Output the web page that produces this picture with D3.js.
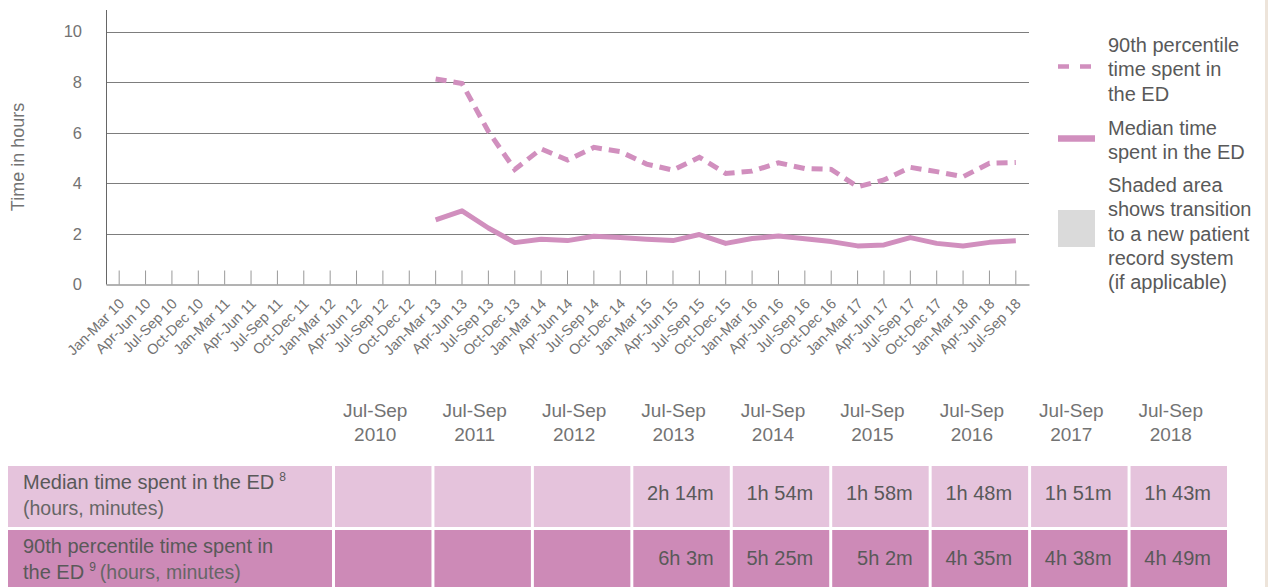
<!DOCTYPE html>
<html>
<head>
<meta charset="utf-8">
<script src="https://cdn.jsdelivr.net/npm/d3@7"></script>
<style>
  body { margin: 0; background: #fff; }
  svg { display: block; font-family: 'Liberation Sans', Arial, sans-serif; }
</style>
</head>
<body>
<svg id="chart" width="1268" height="587"></svg>
<script>
// quarters on the x axis
const quarters = [
  'Jan-Mar 10', 'Apr-Jun 10', 'Jul-Sep 10', 'Oct-Dec 10',
  'Jan-Mar 11', 'Apr-Jun 11', 'Jul-Sep 11', 'Oct-Dec 11',
  'Jan-Mar 12', 'Apr-Jun 12', 'Jul-Sep 12', 'Oct-Dec 12',
  'Jan-Mar 13', 'Apr-Jun 13', 'Jul-Sep 13', 'Oct-Dec 13',
  'Jan-Mar 14', 'Apr-Jun 14', 'Jul-Sep 14', 'Oct-Dec 14',
  'Jan-Mar 15', 'Apr-Jun 15', 'Jul-Sep 15', 'Oct-Dec 15',
  'Jan-Mar 16', 'Apr-Jun 16', 'Jul-Sep 16', 'Oct-Dec 16',
  'Jan-Mar 17', 'Apr-Jun 17', 'Jul-Sep 17', 'Oct-Dec 17',
  'Jan-Mar 18', 'Apr-Jun 18', 'Jul-Sep 18'
]

// 90th percentile time spent in the ED (hours), no data before 2013
const p90Hours = [
  null, null, null, null, null, null, null, null, null, null, null, null,
  8.13, 7.95, 6.05, 4.55, 5.36, 4.92, 5.42, 5.25, 4.76, 4.52, 5.03, 4.39,
  4.48, 4.81, 4.58, 4.55, 3.86, 4.13, 4.63, 4.46, 4.26, 4.79, 4.82
]

// median time spent in the ED (hours)
const medianHours = [
  null, null, null, null, null, null, null, null, null, null, null, null,
  2.55, 2.91, 2.23, 1.65, 1.78, 1.73, 1.90, 1.85, 1.78, 1.73, 1.97, 1.62,
  1.81, 1.91, 1.80, 1.69, 1.52, 1.56, 1.85, 1.62, 1.52, 1.66, 1.72
]

const yTicks = [0, 2, 4, 6, 8, 10]

// table below the chart
const tableYears = ['2010', '2011', '2012', '2013', '2014', '2015', '2016', '2017', '2018']
const medianText = ['', '', '', '2h 14m', '1h 54m', '1h 58m', '1h 48m', '1h 51m', '1h 43m']
const p90Text = ['', '', '', '6h 3m', '5h 25m', '5h 2m', '4h 35m', '4h 38m', '4h 49m']

const lineColor = '#d18fbe'
const textColor = '#595959'
const lightText = '#737373'

const svg = d3.select('#chart')

// beige page edge on the right
svg.append('rect')
  .attr('x', 1265).attr('y', 0).attr('width', 3).attr('height', 587)
  .attr('fill', '#ede4da')

// set the ranges
const x = d3.scaleBand().domain(quarters).range([106, 1029])
const y = d3.scaleLinear().domain([0, 10]).range([284.3, 31.7])
const cx = q => x(q) + x.bandwidth() / 2

// gridlines
svg.append('g')
  .selectAll('line')
  .data(yTicks.filter(d => d > 0))
  .join('line')
  .attr('x1', 106).attr('x2', 1029)
  .attr('y1', d => Math.round(y(d)) + 0.5).attr('y2', d => Math.round(y(d)) + 0.5)
  .attr('stroke', '#7d7d7d')

// left axis
const yAxis = svg.append('g')
  .attr('transform', 'translate(106,0)')
  .call(d3.axisLeft(y).tickValues(yTicks).tickSize(0).tickPadding(24))
yAxis.select('.domain').remove()
yAxis.selectAll('text')
  .attr('font-family', null).attr('font-size', 16.5).attr('fill', lightText)
svg.append('line')
  .attr('x1', 106.5).attr('x2', 106.5).attr('y1', 10).attr('y2', 284.5)
  .attr('stroke', '#666')

svg.append('text')
  .attr('transform', 'translate(24,157) rotate(-90)')
  .attr('text-anchor', 'middle')
  .attr('font-size', 18)
  .attr('fill', lightText)
  .text('Time in hours')

// bottom axis, ticks point up into the plot
const xAxis = svg.append('g')
  .attr('transform', 'translate(0,284.5)')
  .call(d3.axisBottom(x).tickSizeInner(-14).tickSizeOuter(0).tickPadding(0))
xAxis.attr('font-family', null).attr('font-size', null)
xAxis.select('.domain').attr('stroke', '#666')
xAxis.selectAll('.tick line').attr('stroke', '#999')
xAxis.selectAll('.tick text')
  .attr('x', 0).attr('y', 0).attr('dy', 0)
  .attr('transform', 'translate(6,20) rotate(-45)')
  .attr('text-anchor', 'end')
  .attr('font-size', 14.5)
  .attr('fill', lightText)

// the lines
const line = d3.line()
  .defined(d => d != null)
  .x((d, i) => cx(quarters[i]))
  .y(d => y(d))

svg.append('path')
  .datum(p90Hours)
  .attr('d', line)
  .attr('fill', 'none')
  .attr('stroke', lineColor)
  .attr('stroke-width', 5)
  .attr('stroke-dasharray', '11,7')

svg.append('path')
  .datum(medianHours)
  .attr('d', line)
  .attr('fill', 'none')
  .attr('stroke', lineColor)
  .attr('stroke-width', 5)
  .attr('stroke-linejoin', 'round')

// legend
const legend = svg.append('g').attr('fill', textColor).attr('font-size', 20)
legend.append('line')
  .attr('x1', 1058).attr('x2', 1091).attr('y1', 66.5).attr('y2', 66.5)
  .attr('stroke', lineColor).attr('stroke-width', 4.5).attr('stroke-dasharray', '11,11')
legend.append('line')
  .attr('x1', 1058).attr('x2', 1095).attr('y1', 138.5).attr('y2', 138.5)
  .attr('stroke', lineColor).attr('stroke-width', 6.5)
legend.append('rect')
  .attr('x', 1058).attr('y', 210).attr('width', 37).attr('height', 37)
  .attr('fill', '#dadada')

const legendItems = [
  {y: 52, lines: ['90th percentile', 'time spent in', 'the ED']},
  {y: 135, lines: ['Median time', 'spent in the ED']},
  {y: 192, lines: ['Shaded area', 'shows transition', 'to a new patient', 'record system', '(if applicable)']}
]
legendItems.forEach(item => {
  const t = legend.append('text').attr('x', 1108).attr('y', item.y)
  item.lines.forEach((l, i) => {
    t.append('tspan').attr('x', 1108).attr('dy', i === 0 ? 0 : 24.3).text(l)
  })
})

// table
const col = d3.scaleBand().domain(tableYears).range([335, 1227]).paddingInner(0.03)

const header = svg.append('g').attr('fill', lightText).attr('font-size', 19)
  .attr('text-anchor', 'middle')
tableYears.forEach(yr => {
  const t = header.append('text')
    .attr('x', col(yr) + col.bandwidth() / 2 - 8).attr('y', 417)
  t.append('tspan').attr('x', col(yr) + col.bandwidth() / 2 - 8).text('Jul-Sep')
  t.append('tspan').attr('x', col(yr) + col.bandwidth() / 2 - 8).attr('dy', 23.5).text(yr)
})

const rows = [
  {top: 466, height: 61, fill: '#e5c3dc', values: medianText, base: 500,
    label: [['Median time spent in the ED', '8'], ['', '', '(hours, minutes)']]},
  {top: 530, height: 70, fill: '#cd8ab7', values: p90Text, base: 565,
    label: [['90th percentile time spent in'], ['the ED', '9', '(hours, minutes)']]}
]

rows.forEach(r => {
  const g = svg.append('g')
  g.append('rect')
    .attr('x', 8).attr('y', r.top).attr('width', 324).attr('height', r.height)
    .attr('fill', r.fill)
  g.selectAll('rect.cell')
    .data(tableYears)
    .join('rect')
    .attr('class', 'cell')
    .attr('x', d => col(d)).attr('y', r.top)
    .attr('width', col.bandwidth()).attr('height', r.height)
    .attr('fill', r.fill)
  g.selectAll('text.val')
    .data(tableYears)
    .join('text')
    .attr('class', 'val')
    .attr('x', d => col(d) + col.bandwidth() - 16)
    .attr('y', r.base)
    .attr('text-anchor', 'end')
    .attr('font-size', 20)
    .attr('fill', textColor)
    .text((d, i) => r.values[i])

  r.label.forEach((parts, i) => {
    const t = g.append('text')
      .attr('x', 23).attr('y', r.top + 22.5 + i * 26)
      .attr('font-size', 20).attr('fill', textColor)
    if (parts[0]) t.append('tspan').text(parts[0])
    if (parts[1]) {
      t.append('tspan').attr('font-size', 12).attr('dx', 5).attr('dy', -8).text(parts[1])
    }
    if (parts[2]) {
      t.append('tspan').attr('font-size', 19.5).attr('fill', '#666')
        .attr('dx', parts[0] ? 4 : 0).attr('dy', parts[1] ? 8 : 0).text(parts[2])
    }
  })
})
</script>
</body>
</html>
